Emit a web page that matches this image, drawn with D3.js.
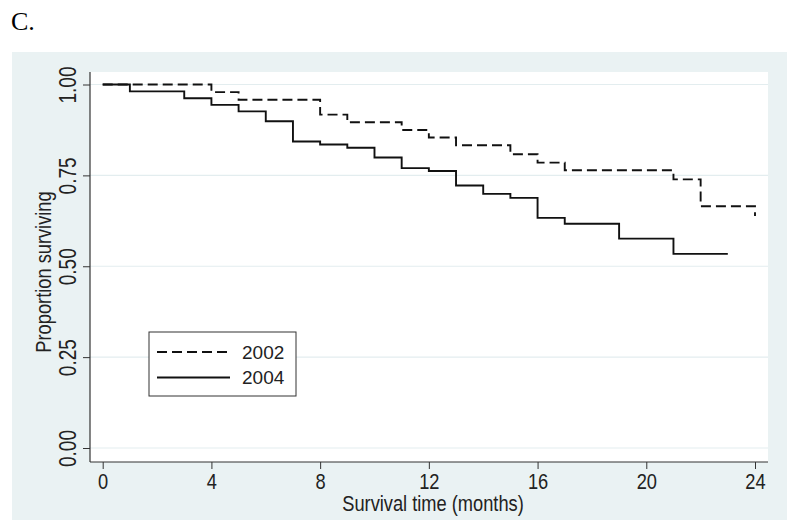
<!DOCTYPE html>
<html>
<head>
<meta charset="utf-8">
<script src="https://cdn.jsdelivr.net/npm/d3@7"></script>
<style>
  html, body { margin: 0; padding: 0; background: #ffffff; }
  svg { display: block; }
</style>
</head>
<body>
<script>
// ---- Data ----
const series2002Times = [0, 4, 5, 8, 9, 11, 12, 13, 15, 16, 17, 21, 22, 24];
const series2002Surv  = [1.0, 0.979, 0.958, 0.917, 0.896, 0.875, 0.854, 0.833, 0.808, 0.785, 0.764, 0.739, 0.665, 0.638];
const series2004Times = [0, 1, 3, 4, 5, 6, 7, 8, 9, 10, 11, 12, 13, 14, 15, 16, 17, 19, 21, 23];
const series2004Surv  = [1.0, 0.981, 0.962, 0.944, 0.926, 0.899, 0.843, 0.835, 0.826, 0.799, 0.770, 0.762, 0.722, 0.699, 0.688, 0.633, 0.617, 0.576, 0.534, 0.534];
const xTicks = [0, 4, 8, 12, 16, 20, 24];
const yTicks = [0, 0.25, 0.5, 0.75, 1.0];
const legendLabels = ["2002", "2004"];
const panelLabel = "C.";
const xTitle = "Survival time (months)";
const yTitle = "Proportion surviving";

const W = 800, H = 531;
const svg = d3.select("body").append("svg").attr("width", W).attr("height", H);
const font = "'Liberation Sans', Arial, sans-serif";
const sx = 0.83; // horizontal condensing of axis text

// panel label
svg.append("text").attr("x", 11).attr("y", 30)
  .attr("font-family", "'Liberation Serif', 'Times New Roman', serif")
  .attr("font-size", 26).attr("fill", "#000").text(panelLabel);

// outer graph region
svg.append("rect").attr("x", 12).attr("y", 52).attr("width", 775).attr("height", 468)
  .attr("fill", "#eaf2f3");

// plot region
const plot = { left: 90, top: 72, right: 768, bottom: 462 };
svg.append("rect").attr("x", plot.left).attr("y", plot.top)
  .attr("width", plot.right - plot.left).attr("height", plot.bottom - plot.top)
  .attr("fill", "#ffffff");

const x = d3.scaleLinear().domain([0, 24]).range([102.7, 755]);
const y = d3.scaleLinear().domain([0, 1]).range([448, 84.5]);

// gridlines
svg.append("g").selectAll("line").data(yTicks).join("line")
  .attr("x1", plot.left).attr("x2", plot.right)
  .attr("y1", d => y(d)).attr("y2", d => y(d))
  .attr("stroke", "#e3edef").attr("stroke-width", 1.2);

// axes
const yAxis = d3.axisLeft(y).tickValues(yTicks).tickFormat(d3.format(".2f")).tickSize(7).tickPadding(8);
const gy = svg.append("g").attr("transform", `translate(${plot.left},0)`).call(yAxis);
gy.select(".domain").attr("d", `M0,${plot.top}V${plot.bottom}`).attr("stroke", "#333").attr("stroke-width", 1.2);
gy.selectAll(".tick line").attr("stroke", "#333");
gy.selectAll(".tick text")
  .attr("font-family", font).attr("font-size", 23).attr("fill", "#222")
  .attr("text-anchor", "middle")
  .attr("transform", `translate(-22,0) rotate(-90) scale(${sx},1)`)
  .attr("x", 0).attr("dy", "0.35em");

const xAxis = d3.axisBottom(x).tickValues(xTicks).tickFormat(d3.format("d")).tickSize(7).tickPadding(4);
const gx = svg.append("g").attr("transform", `translate(0,${plot.bottom})`).call(xAxis);
gx.select(".domain").attr("d", `M${plot.left},0H${plot.right}`).attr("stroke", "#333").attr("stroke-width", 1.2);
gx.selectAll(".tick line").attr("stroke", "#333");
gx.selectAll(".tick text").attr("font-family", font).attr("font-size", 22).attr("fill", "#222")
  .attr("transform", `scale(${sx},1)`);

// axis titles
svg.append("text").attr("transform", `translate(433,511) scale(${sx},1)`).attr("text-anchor", "middle")
  .attr("font-family", font).attr("font-size", 22).attr("fill", "#222").text(xTitle);
svg.append("text").attr("transform", `translate(51,272) rotate(-90) scale(${sx},1)`).attr("text-anchor", "middle")
  .attr("font-family", font).attr("font-size", 22).attr("fill", "#222").text(yTitle);

// survival curves
const line = d3.line().x(d => x(d[0])).y(d => y(d[1])).curve(d3.curveStepAfter);
const d2002 = series2002Times.map((t, i) => [t, series2002Surv[i]]);
const d2004 = series2004Times.map((t, i) => [t, series2004Surv[i]]);

svg.append("path").datum(d2002).attr("d", line)
  .attr("fill", "none").attr("stroke", "#111").attr("stroke-width", 1.9)
  .attr("stroke-dasharray", "10,5");
svg.append("path").datum(d2004).attr("d", line)
  .attr("fill", "none").attr("stroke", "#111").attr("stroke-width", 1.9);

// legend
const lg = svg.append("g");
lg.append("rect").attr("x", 149).attr("y", 332).attr("width", 147).attr("height", 64)
  .attr("fill", "#fff").attr("stroke", "#333").attr("stroke-width", 1);
const legendY = [352, 377.5];
const dashes = ["10,5", null];
legendLabels.forEach((lab, i) => {
  lg.append("line").attr("x1", 157).attr("x2", 230).attr("y1", legendY[i]).attr("y2", legendY[i])
    .attr("stroke", "#111").attr("stroke-width", 1.9)
    .attr("stroke-dasharray", dashes[i]);
  lg.append("text").attr("x", 242).attr("y", legendY[i]).attr("dy", "0.35em")
    .attr("font-family", font).attr("font-size", 19).attr("fill", "#222").text(lab);
});
</script>
</body>
</html>
